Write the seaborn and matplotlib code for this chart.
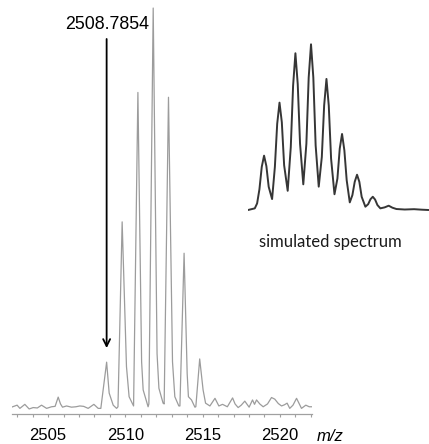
import matplotlib
matplotlib.use("Agg")
import matplotlib.pyplot as plt
from matplotlib.ticker import MultipleLocator
import pandas as pd
import seaborn as sns

# Measured isotope cluster (m/z, relative intensity in %)
labelled_mz = 2508.7854
measured_mz = [
    2502.63, 2502.99, 2503.17, 2503.49, 2503.77, 2504.03, 2504.30, 2504.57,
    2504.90, 2505.22, 2505.45, 2505.65, 2505.80, 2505.93, 2506.19, 2506.51,
    2506.80, 2507.05, 2507.30, 2507.59, 2507.96, 2508.24, 2508.41,
    labelled_mz, 2508.95, 2509.21, 2509.43,
    2509.52, 2509.79, 2510.07, 2510.24, 2510.44,
    2510.53, 2510.81, 2511.05, 2511.15, 2511.47,
    2511.52, 2511.80, 2512.05, 2512.17, 2512.44,
    2512.51, 2512.79, 2513.05, 2513.20, 2513.46,
    2513.53, 2513.80, 2514.00, 2514.08, 2514.28, 2514.50,
    2514.56, 2514.81, 2515.03, 2515.19, 2515.47, 2515.80, 2516.05, 2516.29,
    2516.60, 2516.94, 2517.10, 2517.30, 2517.50, 2517.73, 2518.01, 2518.23,
    2518.36, 2518.49, 2518.70, 2518.92, 2519.20, 2519.46, 2519.67, 2519.90,
    2520.11, 2520.30, 2520.47, 2520.64, 2520.85, 2521.08, 2521.40, 2521.68,
    2521.90, 2522.09,
]
measured_int = [
    0.7, 1.2, 0.4, 1.4, 0.25, 0.6, 0.5, 1.2,
    0.4, 0.8, 0.9, 3.2, 1.5, 0.7, 1.0, 0.7,
    0.8, 1.0, 0.9, 0.4, 1.4, 0.4, 0.4,
    11.9, 4.2, 1.2, 0.4,
    0.8, 46.8, 10.8, 3.3, 1.7,
    1.0, 79.0, 12.0, 5.0, 0.8,
    1.5, 100.0, 14.0, 5.4, 1.7,
    1.5, 77.8, 12.0, 3.3, 1.0,
    1.0, 39.0, 9.0, 3.3, 2.5, 0.7,
    0.8, 12.7, 5.0, 1.7, 1.0, 2.9, 1.0, 1.4,
    0.8, 3.0, 1.5, 0.6, 1.2, 2.2, 0.7, 2.5,
    1.4, 2.5, 1.5, 0.8, 1.5, 3.1, 2.7, 1.6,
    1.0, 1.3, 1.7, 0.4, 1.2, 2.9, 0.4, 1.2,
    0.8, 0.8,
]

# Simulated isotope profile (m/z, relative intensity in %)
simulated_mz = [
    2507.75, 2508.19, 2508.34, 2508.49, 2508.64, 2508.79, 2508.94, 2509.09, 2509.31,
    2509.49, 2509.64, 2509.79, 2509.94, 2510.09, 2510.32,
    2510.52, 2510.67, 2510.82, 2510.97, 2511.12, 2511.33,
    2511.53, 2511.68, 2511.83, 2511.98, 2512.13, 2512.33,
    2512.53, 2512.68, 2512.83, 2512.98, 2513.13, 2513.35,
    2513.54, 2513.69, 2513.84, 2513.99, 2514.14, 2514.34,
    2514.51, 2514.66, 2514.81, 2514.96, 2515.11, 2515.35,
    2515.53, 2515.68, 2515.83, 2515.98, 2516.13, 2516.32,
    2516.60, 2516.86, 2517.10, 2517.36, 2517.90, 2518.50, 2519.00, 2519.45,
]
simulated_int = [
    0.0, 1.0, 4.0, 12.5, 26.0, 32.8, 26.5, 14.0, 6.6,
    26.0, 52.0, 64.8, 53.0, 27.0, 11.6,
    38.0, 75.0, 94.6, 76.0, 40.0, 15.5,
    40.0, 80.0, 100.0, 80.0, 39.0, 14.1,
    32.0, 63.0, 79.1, 63.0, 31.0, 9.5,
    19.0, 37.0, 45.9, 36.0, 18.0, 4.6,
    9.0, 17.0, 21.3, 17.0, 8.0, 2.0,
    3.5, 6.5, 8.0, 6.3, 3.0, 1.0,
    1.6, 2.6, 1.4, 0.6, 0.3, 0.5, 0.2, 0.0,
]

major_ticks = [2505, 2510, 2515, 2520]
tick_labels = ["2505", "2510", "2515", "2520"]

measured = pd.DataFrame({"mz": measured_mz, "intensity": measured_int})
simulated = pd.DataFrame({"mz": simulated_mz, "intensity": simulated_int})

sns.set_style("white")
plt.rcParams["font.family"] = ["Liberation Sans", "DejaVu Sans"]

W, H = 429, 444
fig = plt.figure(figsize=(W / 100, H / 100), dpi=100)

# Main spectrum
ax = fig.add_axes([11.7 / W, 30 / H, 300.6 / W, 414 / H])
ax.patch.set_alpha(0)
sns.lineplot(data=measured, x="mz", y="intensity", ax=ax, color="#9c9c9c",
             linewidth=0.9, errorbar=None, estimator=None)
ax.set_xlim(2502.64, 2522.1)
ax.set_ylim(-1.0, 102.0)
sns.despine(ax=ax, left=True, top=True, right=True)
ax.spines["bottom"].set_color("#a0a0a0")
ax.spines["bottom"].set_linewidth(0.9)
ax.set_yticks([])
ax.set_xticks(major_ticks)
ax.set_xticklabels(tick_labels)
ax.xaxis.set_minor_locator(MultipleLocator(1))
ax.tick_params(axis="x", which="both", direction="out", length=2.4, width=0.8,
               color="#a0a0a0", bottom=True, labelsize=12, pad=7.5,
               labelcolor="black")
ax.set_xlabel("")
ax.set_ylabel("")

# Arrow and mass label for the monoisotopic peak
ax.annotate("", xy=(labelled_mz, 15.4), xytext=(labelled_mz, 92.3),
            arrowprops=dict(arrowstyle="->,head_length=0.5,head_width=0.25",
                            color="black", lw=1.3, shrinkA=0, shrinkB=0))
ax.text(labelled_mz, 94.7, f"{labelled_mz:.4f}", ha="center", va="baseline",
        fontsize=12.8, color="black")

fig.text(330.5 / W, 1 - 440.5 / H, "m/z", ha="center", va="baseline",
         fontsize=12, style="italic", color="black")

# Simulated spectrum
ax2 = fig.add_axes([248 / W, (H - 212) / H, 181 / W, 172 / H])
ax2.patch.set_alpha(0)
sns.lineplot(data=simulated, x="mz", y="intensity", ax=ax2, color="#363636",
             linewidth=1.4, errorbar=None, estimator=None)
ax2.set_xlim(2507.75, 2519.47)
ax2.set_ylim(-1.2, 102.6)
ax2.axis("off")

fig.text(330.5 / W, 1 - 241.7 / H, "simulated spectrum", ha="center",
         va="center", fontsize=12, color="#1a1a1a", family=["Lato", "DejaVu Sans"])

fig.savefig("out.png", dpi=100)
